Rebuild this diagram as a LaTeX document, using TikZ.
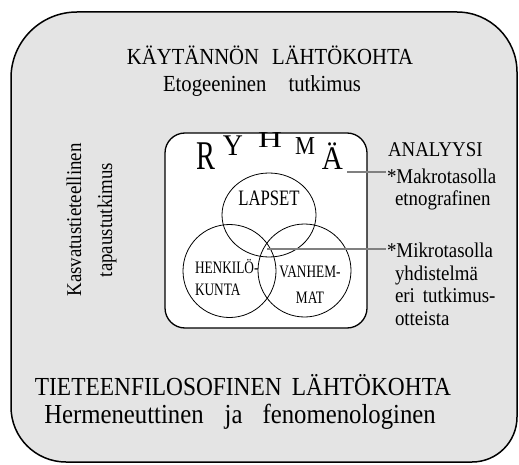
\documentclass[tikz,border=0pt]{standalone}
\usepackage{graphicx}
\usepackage{fontspec}
\setmainfont{Liberation Serif}[FakeStretch=0.9]
\newfontfamily\narrowserif{Liberation Serif}[FakeStretch=0.76]
\usetikzlibrary{shapes.geometric, positioning}
\definecolor{panelgray}{RGB}{228,228,228}
\definecolor{linkgray}{RGB}{128,128,128}

\begin{document}
\begin{tikzpicture}[
    x=1pt, y=1pt,
    every node/.style={inner sep=0pt, outer sep=0pt},
    outerbox/.style={draw=black, line width=1.5pt, fill=panelgray},
    groupbox/.style={rectangle, draw=black, line width=1.3pt, fill=white, rounded corners=20pt},
    member/.style={circle, draw=black, line width=0.8pt, minimum size=93pt},
    heading/.style={anchor=base, font=\fontsize{#1}{#1}\selectfont},
    letter/.style={anchor=base, font=\fontsize{30}{30}\selectfont},
    tag/.style={anchor=base, font=\narrowserif\fontsize{#1}{#1}\selectfont},
    note/.style={anchor=base west, font=\fontsize{21}{21}\selectfont},
    side/.style={anchor=base, rotate=90, font=\fontsize{21}{21}\selectfont},
    link/.style={draw=linkgray, line width=1.8pt, shorten >=1.5pt}
]
\useasboundingbox (0,0) rectangle (519,-465);

% outer frame
\draw[outerbox] (77,-12) -- (457,-12) arc[start angle=90, end angle=0, radius=60]
    -- (517,-417) arc[start angle=0, end angle=-90, radius=45]
    -- (66,-462) arc[start angle=270, end angle=180, radius=55]
    -- (11,-78) arc[start angle=180, end angle=90, radius=66] -- cycle;

% headings
\node[heading=23] (kaytanto) at (270,-65) {KÄYTÄNNÖN\hspace*{13pt}LÄHTÖKOHTA};
\node[heading=23] (etogeen) at (262,-92) {Etogeeninen\hspace*{22pt}tutkimus};
\node[heading=26] (filosofia) at (243,-395) {TIETEENFILOSOFINEN\hspace*{10pt}LÄHTÖKOHTA};
\node[heading=27.5] (hermen) at (240,-423) {Hermeneuttinen\hspace*{21pt}ja\hspace*{20pt}fenomenologinen};

% side text
\node[side] (kasv) at (81,-220) {Kasvatustieteellinen};
\node[side] (tapaus) at (112,-220) {tapaustutkimus};

% group with the three circles
\node[groupbox, minimum width=202pt, minimum height=195pt] (ryhma) at (266,-230.5) {};
\node[member, ellipse, minimum width=94pt, minimum height=84pt] (lapset) at (269,-215) {};
\node[member] (henk) at (229.5,-271) {};
\node[member] (vanh) at (304.5,-270.5) {};

% R Y H M Ä
\node[letter] (letR) at (205.5,-170) {\scalebox{1.05}[1.36]{R}};
\node[letter] (letY) at (233,-156) {\scalebox{1.03}[1.0]{Y}};
\node[letter] (letH) at (270,-148) {\scalebox{1.23}[0.76]{H}};
\node[letter] (letM) at (305,-155) {\scalebox{0.83}[0.86]{M}};
\node[letter] (letA) at (332.5,-170) {\scalebox{1.08}[1.1]{Ä}};

% circle labels
\node[tag=22] (lapsetlbl) at (269,-205) {LAPSET};
\node[tag=17.5, anchor=base west] (henk1) at (195,-273) {HENKILÖ-};
\node[tag=17.5, anchor=base west] (henk2) at ([yshift=-22pt]henk1.base west) {KUNTA};
\node[tag=17.5] (vanh1) at (310,-277) {VANHEM-};
\node[tag=17.5] (vanh2) at ([yshift=-26pt]vanh1.base) {MAT};

% analysis notes
\node[note] (analyysi) at (388,-157) {ANALYYSI};
\node[note] (makro) at ([xshift=-1pt, yshift=-26pt]analyysi.base west) {*Makrotasolla};
\node[note] (etno) at ([xshift=8pt, yshift=-22pt]makro.base west) {etnografinen};
\node[note] (mikro) at (387,-257) {*Mikrotasolla};
\node[note] (yhdis) at ([xshift=8pt, yshift=-23pt]mikro.base west) {yhdistelmä};
\node[note] (eri) at ([yshift=-22pt]yhdis.base west) {eri\hspace*{8pt}tutkimus-};
\node[note] (otteet) at ([yshift=-23pt]eri.base west) {otteista};

% connectors
\coordinate (ae-tip) at (347,-172);
\coordinate (meet) at (267,-249);
\draw[link] (ae-tip) -- (ae-tip -| makro.west);
\draw[link] (meet) -- (meet -| mikro.west);
\end{tikzpicture}
\end{document}
